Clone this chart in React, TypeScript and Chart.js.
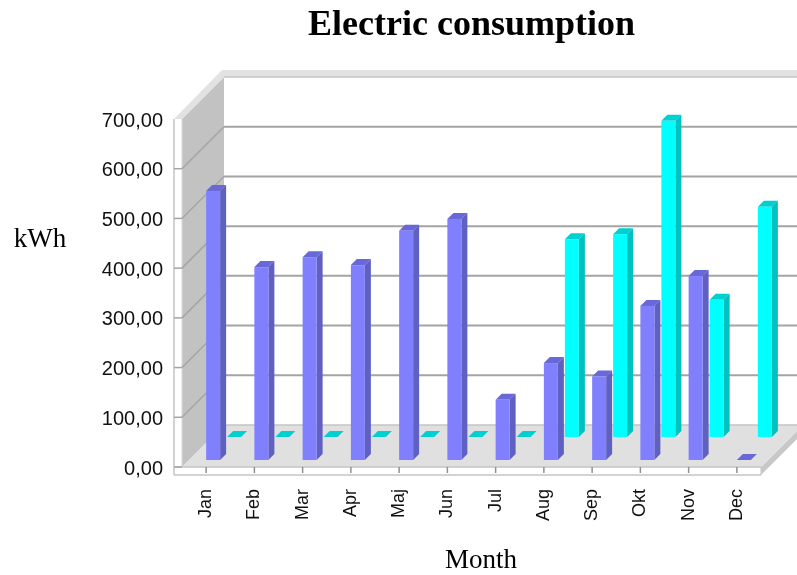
import React, { useEffect, useRef } from "react";
import { Chart, registerables } from "chart.js";

Chart.register(...registerables);

const months = ["Jan", "Feb", "Mar", "Apr", "Maj", "Jun", "Jul", "Aug", "Sep", "Okt", "Nov", "Dec"];
const frontSeries = [541, 388, 408, 392, 461, 485, 121, 195, 168, 310, 370, 0];
const backSeries = [0, 0, 0, 0, 0, 0, 0, 398, 408, 636, 276, 463];

const WALL_DEPTH = 42;
const BAR_DEPTH = 6;
const SERIES_SHIFT = [
  { dx: 7, dy: 7 },
  { dx: 28, dy: 30 },
];
const FACE_COLORS = [
  { front: "#8080ff", side: "#6060c0", top: "#6868d8" },
  { front: "#00ffff", side: "#00c0c0", top: "#00d0d0" },
];

function poly(ctx: CanvasRenderingContext2D, pts: number[][], fill: string) {
  ctx.fillStyle = fill;
  ctx.beginPath();
  pts.forEach(([x, y], i) => (i ? ctx.lineTo(x, y) : ctx.moveTo(x, y)));
  ctx.closePath();
  ctx.fill();
}

function line(ctx: CanvasRenderingContext2D, x1: number, y1: number, x2: number, y2: number, color: string, w: number) {
  ctx.strokeStyle = color;
  ctx.lineWidth = w;
  ctx.beginPath();
  ctx.moveTo(x1, y1);
  ctx.lineTo(x2, y2);
  ctx.stroke();
}

// Box walls, floor and frame behind the bars.
const roomPlugin = {
  id: "room",
  beforeDatasetsDraw(chart: any) {
    const { ctx, chartArea: a, scales, width } = chart;
    const d = WALL_DEPTH;
    const grid = "#a4a4a4";
    const edge = "#c4c4c4";
    const strip = 8;
    ctx.save();
    // side wall
    poly(ctx, [[a.left, a.top], [a.left + d, a.top - d], [a.left + d, a.bottom - d], [a.left, a.bottom]], "#c2c2c2");
    // top edge band running along the left and back walls
    poly(ctx, [[a.left - strip, a.top], [a.left, a.top], [a.left + d, a.top - d], [width, a.top - d], [width, a.top - d - strip + 1], [a.left + d - 2, a.top - d - strip + 1]], "#e2e2e2");
    line(ctx, a.left + d, a.top - d, width, a.top - d, edge, 1.5);
    // front frame: left and bottom strips
    line(ctx, a.left - strip, a.top, a.left - strip, a.bottom + strip, edge, 1.5);
    line(ctx, a.left, a.top, a.left, a.bottom, "#d8d8d8", 1);
    // floor with its right edge
    poly(ctx, [[a.right, a.bottom], [a.right + d, a.bottom - d], [a.right + d, a.bottom - d + strip], [a.right, a.bottom + strip]], "#c8c8c8");
    poly(ctx, [[a.left, a.bottom], [a.right, a.bottom], [a.right + d, a.bottom - d], [a.left + d, a.bottom - d]], "#e0e0e0");
    line(ctx, a.left + d, a.bottom - d, width, a.bottom - d, edge, 1.5);
    line(ctx, a.left - strip, a.bottom, a.right, a.bottom, edge, 1.5);
    line(ctx, a.left - strip, a.bottom + strip, a.right, a.bottom + strip, edge, 1.5);
    line(ctx, a.right, a.bottom, a.right, a.bottom + strip, edge, 1);
    // value grid on the side and back walls
    scales.y.ticks.forEach((t: any) => {
      if (t.value === 700) return;
      const y = scales.y.getPixelForValue(t.value);
      line(ctx, a.left - strip, y, a.left, y, grid, 1.5);
      if (t.value > 0) {
        line(ctx, a.left, y, a.left + d, y - d, grid, 1.5);
        line(ctx, a.left + d, y - d, width, y - d, grid, 2);
      }
    });
    // month ticks on the bottom strip
    months.forEach((_, i) => {
      const x = scales.x.getPixelForValue(i);
      line(ctx, x, a.bottom, x, a.bottom + strip - 2, "#909090", 1.5);
    });
    ctx.restore();
  },
  // Extruded bars in place of the flat ones.
  beforeDatasetDraw(chart: any, args: any) {
    const { ctx } = chart;
    const { dx, dy } = SERIES_SHIFT[args.index];
    const colors = FACE_COLORS[args.index];
    const b = BAR_DEPTH;
    args.meta.data.forEach((el: any) => {
      const { x: cx, y, base, width } = el.getProps(["x", "y", "base", "width"], true);
      const left = cx - width / 2 + dx;
      const right = left + width;
      const top = y - dy;
      const bottom = base - dy;
      poly(ctx, [[left, top], [left + b, top - b], [right + b, top - b], [right, top]], colors.top);
      poly(ctx, [[right, top], [right + b, top - b], [right + b, bottom - b], [right, bottom]], colors.side);
      if (bottom > top) {
        ctx.fillStyle = colors.front;
        ctx.fillRect(left, top, width, bottom - top);
      }
    });
    return false;
  },
  // Axis captions.
  afterDraw(chart: any) {
    const { ctx } = chart;
    ctx.save();
    ctx.fillStyle = "#000000";
    ctx.font = '27px "Liberation Serif"';
    ctx.textAlign = "center";
    ctx.textBaseline = "middle";
    ctx.fillText("kWh", 40, 240);
    ctx.fillText("Month", 481, 561);
    ctx.restore();
  },
};

export default function App() {
  const ref = useRef<HTMLCanvasElement>(null);

  useEffect(() => {
    const chart = new Chart(ref.current!, {
      type: "bar",
      data: {
        labels: months,
        datasets: [
          { label: "Front", data: frontSeries, backgroundColor: FACE_COLORS[0].front, clip: false },
          { label: "Back", data: backSeries, backgroundColor: FACE_COLORS[1].front, clip: false },
        ],
      },
      options: {
        responsive: false,
        animation: false,
        layout: { padding: { right: 36, left: 0, top: 0, bottom: 0 } },
        datasets: { bar: { grouped: false, barThickness: 14 } },
        plugins: {
          legend: { display: false },
          tooltip: { enabled: false },
          title: {
            display: true,
            text: "Electric consumption",
            fullSize: false,
            color: "#000000",
            font: { family: '"Liberation Serif"', size: 36, weight: "bold" },
            padding: { top: 4, bottom: 71.8 },
          },
        },
        scales: {
          x: {
            grid: { display: false, drawTicks: false },
            border: { display: false },
            afterFit: (s: any) => { s.height = 108; },
            ticks: {
              autoSkip: false,
              minRotation: 90,
              maxRotation: 90,
              padding: 22,
              color: "#111111",
              font: { family: '"Liberation Sans"', size: 18 },
            },
          },
          y: {
            min: 0,
            max: 700,
            grid: { display: false, drawTicks: false },
            border: { display: false },
            afterFit: (s: any) => { s.width = 182; },
            ticks: {
              stepSize: 100,
              padding: 19,
              labelOffset: 2,
              color: "#111111",
              font: { family: '"Liberation Sans"', size: 20 },
              callback: (v: any) => Number(v).toFixed(2).replace(".", ","),
            },
          },
        },
      },
      plugins: [roomPlugin],
    } as any);
    return () => chart.destroy();
  }, []);

  return (
    <div style={{ position: "absolute", left: 0, top: 0, background: "#ffffff" }}>
      <canvas ref={ref} width={797} height={575} style={{ display: "block" }} />
    </div>
  );
}
